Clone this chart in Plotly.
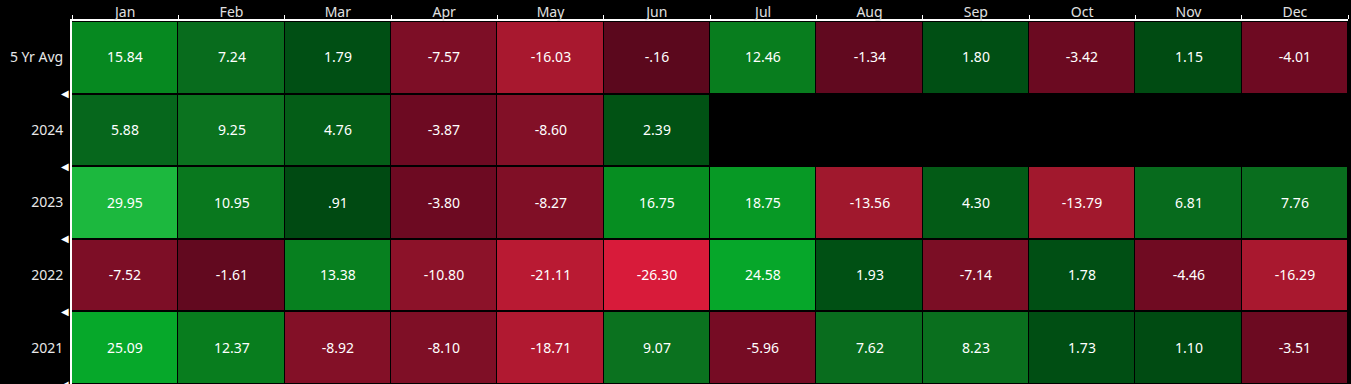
import plotly.graph_objects as go

months = ["Jan", "Feb", "Mar", "Apr", "May", "Jun", "Jul", "Aug", "Sep", "Oct", "Nov", "Dec"]
rows = ["5 Yr Avg", "2024", "2023", "2022", "2021"]

avg5 = [15.84, 7.24, 1.79, -7.57, -16.03, -0.16, 12.46, -1.34, 1.80, -3.42, 1.15, -4.01]
y2024 = [5.88, 9.25, 4.76, -3.87, -8.60, 2.39, None, None, None, None, None, None]
y2023 = [29.95, 10.95, 0.91, -3.80, -8.27, 16.75, 18.75, -13.56, 4.30, -13.79, 6.81, 7.76]
y2022 = [-7.52, -1.61, 13.38, -10.80, -21.11, -26.30, 24.58, 1.93, -7.14, 1.78, -4.46, -16.29]
y2021 = [25.09, 12.37, -8.92, -8.10, -18.71, 9.07, -5.96, 7.62, 8.23, 1.73, 1.10, -3.51]

z = [avg5, y2024, y2023, y2022, y2021]


def fmt(v):
    if v is None:
        return ""
    s = f"{v:.2f}"
    if s.startswith("0."):
        s = s[1:]
    elif s.startswith("-0."):
        s = "-" + s[2:]
    return s


text = [[fmt(v) for v in r] for r in z]

ZMIN, ZMAX = -30.0, 30.0
stops = [
    (-30, "#e21d3f"), (-26.3, "#d81b3a"), (-21, "#b81a33"), (-16, "#a8182f"),
    (-13.6, "#a0182d"), (-11, "#8d1229"), (-8, "#7f0f26"), (-4, "#6e0a22"),
    (-0.006, "#5a081d"), (0.006, "#00450f"), (1, "#004a12"), (2, "#005014"),
    (4.8, "#045d17"), (6, "#06681c"), (9, "#0b721f"), (12.5, "#087d1e"),
    (16, "#068a20"), (19, "#079a25"), (25, "#06a82a"), (30, "#1cb83e"),
]
colorscale = [[(v - ZMIN) / (ZMAX - ZMIN), c] for v, c in stops]

xs = list(range(len(months)))
ys = list(range(len(rows)))

fig = go.Figure()
fig.add_trace(go.Heatmap(
    z=z, x=xs, y=ys, text=text, texttemplate="%{text}",
    textfont=dict(color="white", size=14, family="Noto Sans"),
    colorscale=colorscale, zmin=ZMIN, zmax=ZMAX, showscale=False,
    xgap=1, ygap=2, hoverinfo="skip",
))

# left-side row boundary markers
for b in [i + 0.5 for i in ys]:
    fig.add_annotation(
        x=0, xref="paper", y=b, yref="y", text="◀", showarrow=False,
        xanchor="right", yanchor="middle", xshift=-1,
        font=dict(size=10, color="white", family="DejaVu Sans"),
    )

fig.update_layout(
    width=1351, height=384,
    margin=dict(l=72, r=3, t=21, b=0),
    paper_bgcolor="black", plot_bgcolor="black",
    font=dict(family="Noto Sans", color="#e8e8e8", size=14),
    showlegend=False,
    xaxis=dict(
        side="top", range=[-0.5, 11.5], tickmode="array", tickvals=xs, ticktext=months,
        ticks="", showgrid=False, zeroline=False, showline=True, linecolor="white",
        linewidth=2, tickfont=dict(size=14, color="#e0e0e0"), automargin=False,
        ticklabelstandoff=-4,
        minor=dict(tickmode="array", tickvals=[i - 0.5 for i in range(13)], ticks="outside",
                   ticklen=4, tickcolor="white", tickwidth=1, showgrid=False),
    ),
    yaxis=dict(
        range=[4.5, -0.5], tickmode="array", tickvals=ys, ticktext=rows,
        ticks="", showgrid=False, zeroline=False, showline=True, linecolor="white",
        linewidth=2, tickfont=dict(size=14, color="#e8e8e8"), automargin=False,
        ticklabelstandoff=4,
    ),
)

fig.write_html(
    "out.html",
    config={"displayModeBar": False},
    post_script="document.body.style.margin='0';document.body.style.background='black';",
)
